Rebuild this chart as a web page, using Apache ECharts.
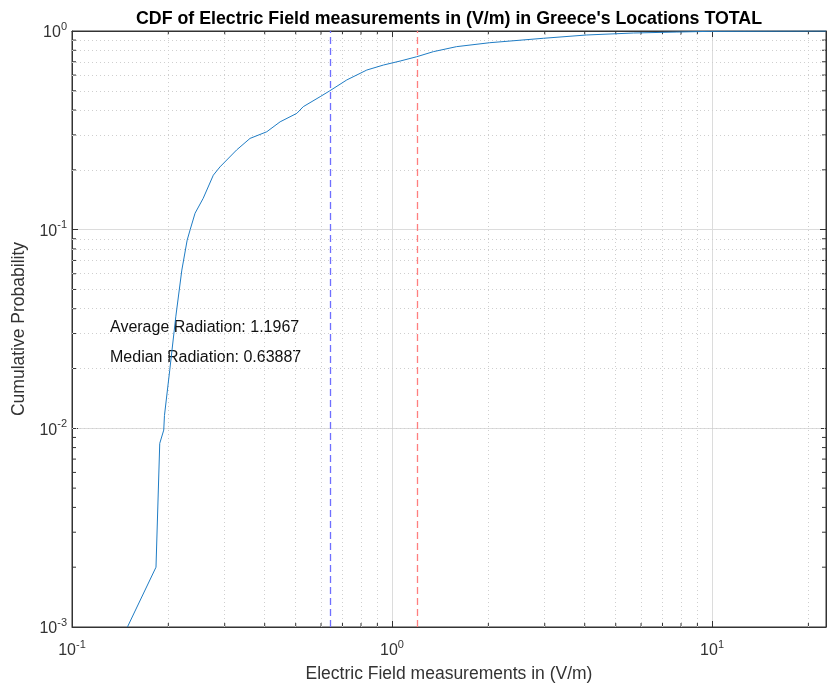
<!DOCTYPE html>
<html>
<head>
<meta charset="UTF-8">
<title>CDF of Electric Field measurements</title>
<script src="https://cdn.jsdelivr.net/npm/echarts@6/dist/echarts.min.js"></script>
<style>
  html, body { margin: 0; padding: 0; background: #fff; }
  #chart { width: 831px; height: 684px; }
</style>
</head>
<body>
<div id="chart"></div>
<script>
// measured field values (V/m) and their cumulative probability
var fieldValues = [0.149, 0.183, 0.188, 0.1935, 0.1945, 0.202, 0.211, 0.2204, 0.229, 0.234,
  0.2424, 0.257, 0.2764, 0.290, 0.327, 0.360, 0.406, 0.447, 0.504, 0.528,
  0.596, 0.639, 0.722, 0.834, 0.94, 1.06, 1.194, 1.346, 1.59, 2.02,
  2.97, 4.06, 5.68, 7.76, 9.86, 22.7];
var cdfValues = [0.001, 0.002, 0.0084, 0.0098, 0.0116, 0.0196, 0.0364, 0.0626, 0.0886, 0.1,
  0.121, 0.1438, 0.188, 0.207, 0.252, 0.288, 0.311, 0.349, 0.385, 0.416,
  0.467, 0.5, 0.567, 0.636, 0.674, 0.706, 0.742, 0.787, 0.834, 0.873,
  0.919, 0.955, 0.977, 0.988, 0.996, 1];

var averageRadiation = 1.1967;
var medianRadiation = 0.63887;

var xRange = [0.1, 22.7];
var yRange = [0.001, 1];
var xMinor = [0.2, 0.3, 0.4, 0.5, 0.6, 0.7, 0.8, 0.9, 2, 3, 4, 5, 6, 7, 8, 9, 20];
var yMinor = [0.002, 0.003, 0.004, 0.005, 0.006, 0.007, 0.008, 0.009,
  0.02, 0.03, 0.04, 0.05, 0.06, 0.07, 0.08, 0.09,
  0.2, 0.3, 0.4, 0.5, 0.6, 0.7, 0.8, 0.9];

var chart = echarts.init(document.getElementById('chart'));

var axisColor = '#333';
var font = 'Liberation Sans, Arial, sans-serif';

function powLabel(v) {
  var e = Math.log10(v);
  var r = Math.round(e);
  if (Math.abs(e - r) > 1e-6) return '';
  return '{b|10}{s|' + r + '}';
}
// exponent raised by aligning it to the top of a taller line
var powRich = {
  b: { fontSize: 16, fontFamily: font, color: '#333', lineHeight: 20, verticalAlign: 'bottom' },
  s: { fontSize: 11, fontFamily: font, color: '#333', lineHeight: 20, verticalAlign: 'top' }
};

var minorLines = [];
xMinor.forEach(function (v) { minorLines.push({ xAxis: v }); });
yMinor.forEach(function (v) { minorLines.push({ yAxis: v }); });

var minorTickData = [];
xMinor.forEach(function (v) { minorTickData.push([v, yRange[0], 0]); });
yMinor.forEach(function (v) { minorTickData.push([xRange[0], v, 1]); });

var option = {
  animation: false,
  backgroundColor: '#fff',
  title: {
    text: "CDF of Electric Field measurements in (V/m) in Greece's Locations TOTAL",
    left: 444,
    textAlign: 'center',
    top: 5,
    textStyle: { fontSize: 17.8, fontWeight: 'bold', fontFamily: font, color: '#000' }
  },
  grid: {
    left: 72, right: 5, top: 31, bottom: 57,
    containLabel: false, outerBoundsMode: 'none',
    show: true, borderColor: axisColor, borderWidth: 1, backgroundColor: '#fff'
  },
  xAxis: [{
    type: 'log', logBase: 10, min: xRange[0], max: xRange[1],
    name: 'Electric Field measurements in (V/m)',
    nameLocation: 'middle', nameGap: 38,
    nameTextStyle: { fontSize: 17.5, fontFamily: font, color: '#333' },
    axisLine: { lineStyle: { color: axisColor } },
    axisTick: { inside: true, length: 6, lineStyle: { color: axisColor } },
    axisLabel: { formatter: powLabel, rich: powRich, margin: 12, showMaxLabel: false },
    splitLine: { show: true, lineStyle: { color: '#dcdcdc', width: 1 } },
    minorTick: { show: false }
  }, {
    type: 'log', logBase: 10, min: xRange[0], max: xRange[1], position: 'top',
    axisLine: { lineStyle: { color: axisColor } },
    axisTick: { inside: true, length: 6, lineStyle: { color: axisColor } },
    axisLabel: { show: false },
    splitLine: { show: false }
  }],
  yAxis: [{
    type: 'log', logBase: 10, min: yRange[0], max: yRange[1],
    name: 'Cumulative Probability',
    nameLocation: 'middle', nameGap: 41,
    nameTextStyle: { fontSize: 17.5, fontFamily: font, color: '#333' },
    axisLine: { lineStyle: { color: axisColor } },
    axisTick: { inside: true, length: 6, lineStyle: { color: axisColor } },
    axisLabel: { formatter: powLabel, rich: powRich, margin: 5 },
    splitLine: { show: true, lineStyle: { color: '#dcdcdc', width: 1 } }
  }, {
    type: 'log', logBase: 10, min: yRange[0], max: yRange[1], position: 'right',
    axisLine: { lineStyle: { color: axisColor } },
    axisTick: { inside: true, length: 6, lineStyle: { color: axisColor } },
    axisLabel: { show: false },
    splitLine: { show: false }
  }],
  series: [{
    // minor grid (dotted)
    type: 'line', data: [], silent: true,
    markLine: {
      silent: true, symbol: 'none', animation: false,
      label: { show: false },
      lineStyle: { type: [1, 3], color: '#cfcfcf', width: 1 },
      data: minorLines
    }
  }, {
    // minor ticks on all four sides
    type: 'custom', silent: true, clip: false,
    data: minorTickData,
    renderItem: function (params, api) {
      var kind = api.value(2);
      var len = 4;
      var style = { stroke: axisColor, lineWidth: 1 };
      if (kind === 0) {
        var b = api.coord([api.value(0), yRange[0]]);
        var t = api.coord([api.value(0), yRange[1]]);
        return { type: 'group', children: [
          { type: 'line', shape: { x1: b[0], y1: b[1], x2: b[0], y2: b[1] - len }, style: style },
          { type: 'line', shape: { x1: t[0], y1: t[1], x2: t[0], y2: t[1] + len }, style: style }
        ] };
      }
      var l = api.coord([xRange[0], api.value(1)]);
      var r = api.coord([xRange[1], api.value(1)]);
      return { type: 'group', children: [
        { type: 'line', shape: { x1: l[0], y1: l[1], x2: l[0] + len, y2: l[1] }, style: style },
        { type: 'line', shape: { x1: r[0], y1: r[1], x2: r[0] - len, y2: r[1] }, style: style }
      ] };
    }
  }, {
    name: 'CDF',
    type: 'line',
    data: fieldValues.map(function (x, i) { return [x, cdfValues[i]]; }),
    showSymbol: false,
    lineStyle: { color: '#1f7cc4', width: 1 },
    z: 5,
    markLine: {
      silent: true, symbol: 'none', animation: false,
      label: { show: false },
      data: [
        { xAxis: medianRadiation, lineStyle: { color: '#6f6fff', type: [7, 4], width: 1.3 } },
        { xAxis: averageRadiation, lineStyle: { color: '#ff7f7f', type: [7, 4], width: 1.3 } }
      ]
    }
  }],
  graphic: [{
    type: 'text', left: 110, top: 320,
    style: { text: 'Average Radiation: ' + averageRadiation, font: '16px ' + font, fill: '#111' }
  }, {
    type: 'text', left: 110, top: 350,
    style: { text: 'Median Radiation: ' + medianRadiation, font: '16px ' + font, fill: '#111' }
  }]
};

chart.setOption(option);
</script>
</body>
</html>
